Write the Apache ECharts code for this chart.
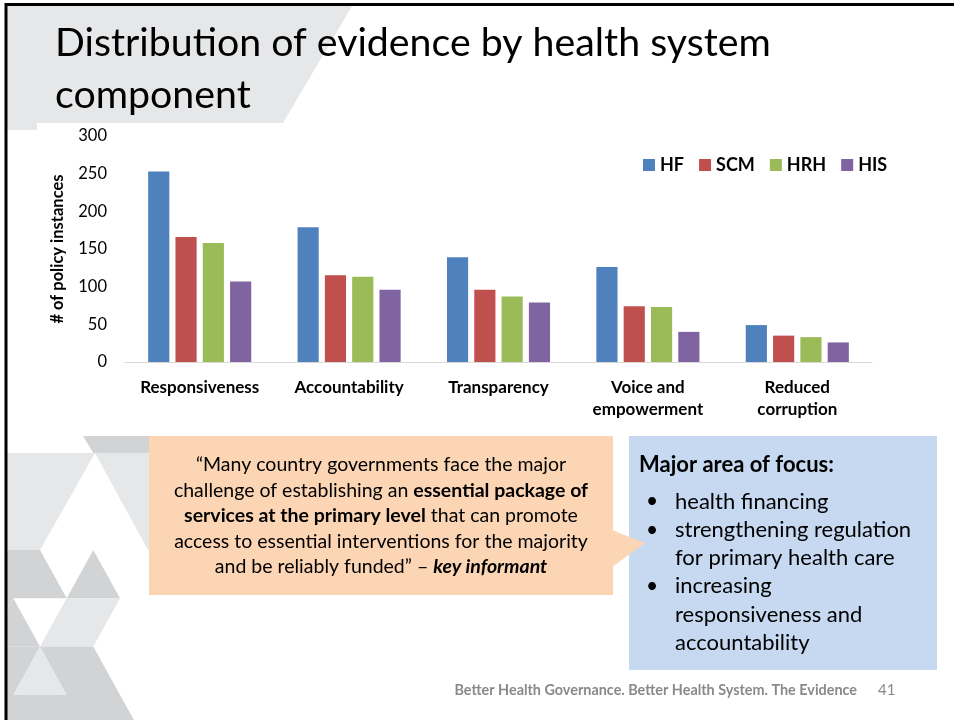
<!DOCTYPE html>
<html>
<head>
<meta charset="utf-8">
<script src="https://cdn.jsdelivr.net/npm/echarts@6/dist/echarts.min.js"></script>
<style>
html,body{margin:0;padding:0;background:#fff;}
#chart{width:954px;height:720px;}
</style>
</head>
<body>
<div id="chart"></div>
<script>
// ---- data ----
const categories = ['Responsiveness', 'Accountability', 'Transparency', 'Voice and\nempowerment', 'Reduced\ncorruption'];
const seriesNames = ['HF', 'SCM', 'HRH', 'HIS'];
const hfValues  = [253, 179, 139, 126, 49];
const scmValues = [166, 115, 96, 74, 35];
const hrhValues = [158, 113, 87, 73, 33];
const hisValues = [107, 96, 79, 40, 26];
const yAxisMin = 0, yAxisMax = 300, yAxisStep = 50;
const yAxisTitle = '# of policy instances';
const titleLines = ['Distribution of evidence by health system', 'component'];
const quoteLines = [
  [['n', '\u201CMany country governments face the major']],
  [['n', 'challenge of establishing an '], ['b', 'essential package of']],
  [['b', 'services at the primary level'], ['n', ' that can promote']],
  [['n', 'access to essential interventions for the majority']],
  [['n', 'and be reliably funded\u201D \u2013 '], ['bi', 'key informant']]
];
const focusTitle = 'Major area of focus:';
const focusLines = [
  [true, 'health financing'],
  [true, 'strengthening regulation'],
  [false, 'for primary health care'],
  [true, 'increasing'],
  [false, 'responsiveness and'],
  [false, 'accountability']
];
const footerText = 'Better Health Governance. Better Health System. The Evidence';
const pageNumber = '41';

const colors = ['#4f81bd', '#c0504d', '#9bbb59', '#8064a2'];
const FONT = 'Lato, "Open Sans", sans-serif';
const LIGHT = '#e6e7e8', MED = '#d2d3d5';

const seriesData = [hfValues, scmValues, hrhValues, hisValues];

const graphics = [];
function poly(points, fill) {
  graphics.push({ type: 'polygon', z: -10, silent: true, shape: { points: points }, style: { fill: fill } });
}
// top-left gray title area
poly([[7, 6], [352, 6], [283, 123], [37, 123], [37, 130], [7, 130]], LIGHT);
// bottom-left triangle pattern
poly([[83, 436], [149, 436], [149, 453], [93.3, 453]], MED);
poly([[7, 453], [95, 453], [40, 550], [7, 550]], LIGHT);
poly([[95, 453], [149, 453], [149, 550], [148, 550]], LIGHT);
poly([[7, 550], [40, 550], [66.7, 598.3], [13.3, 598.3], [7, 609]], MED);
poly([[93.3, 550], [66.7, 598.3], [120, 598.3]], MED);
poly([[13.3, 598.3], [7, 609.5], [7, 646.6], [40, 646.6]], MED);
poly([[66.7, 598.3], [120, 598.3], [93.3, 646.6], [40, 646.6]], LIGHT);
poly([[7, 646.6], [40, 646.6], [13.3, 695], [7, 695]], MED);
poly([[40, 646.6], [13.3, 695], [66.7, 695]], LIGHT);
poly([[40, 646.6], [93.3, 646.6], [120, 695], [66.7, 695]], MED);
poly([[7, 695], [120, 695], [134, 720], [7, 720]], MED);

// border
graphics.push({ type: 'rect', z: 50, silent: true, shape: { x: 6, y: 4.5, width: 1000, height: 1000 }, style: { fill: null, stroke: '#000', lineWidth: 3 } });

// title
titleLines.forEach(function (t, i) {
  graphics.push({ type: 'text', z: 5, left: 55, top: 24 + i * 52, style: { text: t, font: '39.3px ' + FONT, fill: '#000' } });
});

// blue box
graphics.push({ type: 'rect', z: 1, silent: true, shape: { x: 629, y: 436, width: 308, height: 234 }, style: { fill: '#c6d9f1' } });
// orange box + arrow
graphics.push({ type: 'rect', z: 2, silent: true, shape: { x: 149, y: 436, width: 464, height: 159 }, style: { fill: '#fcd5b5' } });
graphics.push({ type: 'polygon', z: 2, silent: true, shape: { points: [[612, 530], [645, 543], [612, 567]] }, style: { fill: '#fcd5b5' } });

// quote text
const QF = 19.5;
const richStyles = {
  n: { font: QF + 'px ' + FONT, fill: '#000' },
  b: { font: 'bold ' + QF + 'px ' + FONT, fill: '#000' },
  bi: { font: 'italic bold ' + QF + 'px ' + FONT, fill: '#000' }
};
quoteLines.forEach(function (line, i) {
  const txt = line.map(function (seg) { return '{' + seg[0] + '|' + seg[1] + '}'; }).join('');
  graphics.push({ type: 'text', z: 5, x: 381, y: 465 + i * 25.5,
    style: { text: txt, rich: richStyles, align: 'center', verticalAlign: 'middle', font: QF + 'px ' + FONT } });
});

// focus box text
graphics.push({ type: 'text', z: 5, x: 639, y: 465, style: { text: focusTitle, font: 'bold 22px ' + FONT, fill: '#000', verticalAlign: 'middle' } });
focusLines.forEach(function (line, i) {
  const y = 501.5 + i * 28.3;
  if (line[0]) graphics.push({ type: 'text', z: 5, x: 646, y: y, style: { text: '\u2022', font: '21px ' + FONT, fill: '#000', verticalAlign: 'middle' } });
  graphics.push({ type: 'text', z: 5, x: 675, y: y, style: { text: line[1], font: '22px ' + FONT, fill: '#000', verticalAlign: 'middle' } });
});

// footer
graphics.push({ type: 'text', z: 5, x: 857, y: 690, style: { text: footerText, font: 'bold 14.4px ' + FONT, fill: '#898989', align: 'right', verticalAlign: 'middle' } });
graphics.push({ type: 'text', z: 5, x: 878, y: 690, style: { text: pageNumber, font: '15px ' + FONT, fill: '#898989', verticalAlign: 'middle' } });

const chart = echarts.init(document.getElementById('chart'), null, { renderer: 'canvas' });
chart.setOption({
  animation: false,
  backgroundColor: '#fff',
  color: colors,
  textStyle: { fontFamily: FONT },
  grid: { left: 125, right: 82, top: 136, bottom: 358, containLabel: false },
  legend: {
    data: seriesNames,
    left: 643, top: 156, padding: 0,
    icon: 'rect', itemWidth: 12, itemHeight: 12, itemGap: 15,
    textStyle: { fontFamily: FONT, fontSize: 18, fontWeight: 'bold', color: '#000' }
  },
  xAxis: {
    type: 'category',
    data: categories,
    axisLine: { lineStyle: { color: '#d9d9d9', width: 1 } },
    axisTick: { show: false },
    axisLabel: { interval: 0, margin: 15, fontFamily: FONT, fontSize: 17, fontWeight: 'bold', color: '#000', lineHeight: 22 }
  },
  yAxis: {
    type: 'value',
    min: yAxisMin, max: yAxisMax, interval: yAxisStep,
    name: yAxisTitle,
    nameLocation: 'middle', nameGap: 59, nameRotate: 90,
    nameTextStyle: { fontFamily: FONT, fontSize: 16.5, fontWeight: 'bold', color: '#000' },
    axisLine: { show: false },
    axisTick: { show: false },
    splitLine: { show: false },
    axisLabel: { margin: 18, fontFamily: FONT, fontSize: 16.5, color: '#000' }
  },
  series: seriesNames.map(function (n, i) {
    return {
      name: n, type: 'bar', data: seriesData[i],
      barCategoryGap: '31%', barGap: '29%',
      itemStyle: { color: colors[i] }
    };
  }),
  graphic: { elements: graphics }
});
</script>
</body>
</html>
